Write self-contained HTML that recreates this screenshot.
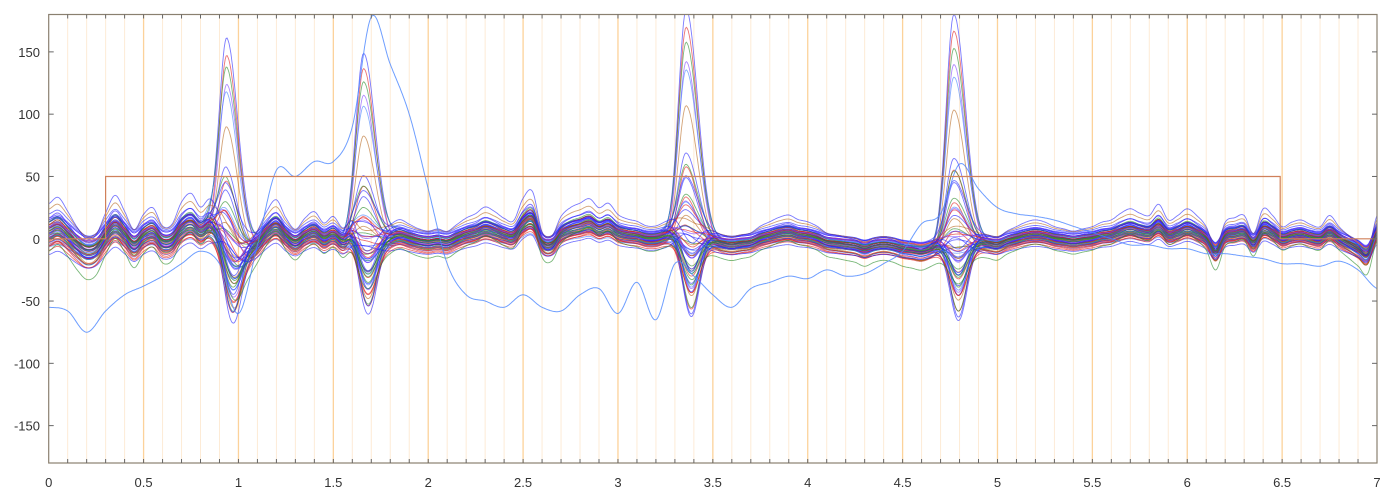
<!DOCTYPE html>
<html><head><meta charset="utf-8">
<style>
html,body{margin:0;padding:0;background:#fff;}
svg{display:block;font-family:"Liberation Sans",sans-serif;}
</style></head>
<body>
<svg id="chart" width="1400" height="500" viewBox="0 0 1400 500" xmlns="http://www.w3.org/2000/svg">
<g id="grid"></g>
<g id="traces"></g>
<g id="axes"></g>
</svg>
<script>
// ---- data ----
const baseWave = [5,8,2,-5,-10,-8,2,10,3,-5,2,5,-3,-2,8,12,6,10,5,-5,-12,-10,-4,5,10,2,-3,2,5,0,3,-2,2,-5,-5,-2,0,2,0,-2,
-3,-2,-3,0,3,5,8,6,3,2,12,15,-3,-5,4,8,10,12,8,10,5,3,2,0,0,2,4,2,0,0,-2,-4,-5,-4,-3,0,2,4,5,3,2,0,-3,-4,-5,-6,-8,-6,-5,-6,-8,-9,-10,-8,-5,-3,-2,-2,-3,-4,
-5,-2,0,2,3,2,0,-1,-2,-1,0,2,3,6,8,6,5,10,3,5,8,5,0,-10,2,4,5,-3,8,5,0,2,3,1,0,5,0,-4,-8,-12,5];
const baseStep = 0.05;
const spikeTimes = [0.94, 1.66, 3.36, 4.77];
const spikeScale = [0.85, 0.8, 0.95, 0.95];
const spikeAmp = [190,180,160,150,135,115,70,65,58,52,45,40,35,30,26,22,18,14,10,7,4,2,0,-2,-4,-6,-8,-10,-12,-14,-16,-18,-20,-22,-24,-26,-28,-30,-32,-34,-36,-38,-40,-42,-44,-46,-50,-55,-60,-65,-70,-40,-30,-20,-10,5,12,25,-25,-15];
const baseGain = [1,0.8,1.2,0.6,1.4,0.9,1.1,0.7,1.3,1.0,0.9,1.2,0.8,1.5,1.0,0.7,1.1,1.3,0.6,1.0,1.2,0.8,1.4,0.9,1.1,1.0,0.7,1.3,0.9,1.2,1.0,0.8,1.1,1.4,0.6,1.0,1.2,0.9,1.3,0.8,1.1,1.0,0.7,1.2,0.9,1.5,1.0,0.8,1.1,1.3,0.9,1.0,1.2,0.7,1.1,1.4,0.8,1.0,1.6,1.8];
const offsets = [3,-4,6,-2,8,-6,1,-8,4,-3,10,-10,2,-1,5,-5,7,-7,0,3,-3,6,-6,9,-9,1,-2,4,-4,2,-1,5,-5,8,-8,0,3,-3,6,-6,12,-12,1,-1,4,-4,7,-7,2,-2,9,-9,0,5,-5,14,-14,3,-15,16];
const colorCycle = ["#1f1fff","#e01818","#228822","#7a3cff","#3c7cff","#b5651d","#1f1fff","#e01818","#228822","#1f1fff"];
const outlier = [-55,-58,-75,-58,-45,-38,-30,-20,-10,-20,-60,-5,55,50,62,62,90,178,140,100,40,-20,-45,-50,-55,-45,-55,-58,-45,-40,-60,-35,-65,-20,-30,-45,-55,-40,-35,-30,-32,-25,-30,-28,-20,-10,12,20,60,40,25,20,18,15,10,5,0,-5,-5,-8,-8,-12,-12,-14,-16,-20,-20,-22,-18,-25,-40];
const outlierStep = 0.1;
const stepTimes = [0, 0.3, 0.3, 6.49, 6.49, 7];
const stepVals = [0, 0, 50, 50, 0, 0];
const xTicks = [0,0.5,1,1.5,2,2.5,3,3.5,4,4.5,5,5.5,6,6.5,7];
const xTickLabels = ["0","0.5","1","1.5","2","2.5","3","3.5","4","4.5","5","5.5","6","6.5","7"];
const yTicks = [150,100,50,0,-50,-100,-150];
const yTickLabels = ["150","100","50","0","-50","-100","-150"];

// ---- scales ----
const X0=48.7, X1=1377, Y0=463, Y1=14.5, XMIN=0, XMAX=7, YMIN=-180, YMAX=180;
const sx = t => X0 + (t-XMIN)/(XMAX-XMIN)*(X1-X0);
const sy = v => Y0 - (v-YMIN)/(YMAX-YMIN)*(Y0-Y1);
const NS="http://www.w3.org/2000/svg";
function mk(tag, parent){const e=document.createElementNS(NS,tag);parent.appendChild(e);return e;}

function interp(arr, step, t){
  let f=t/step, i=Math.floor(f); if(i>=arr.length-1) return arr[arr.length-1];
  const u=f-i, p0=arr[Math.max(i-1,0)], p1=arr[i], p2=arr[i+1], p3=arr[Math.min(i+2,arr.length-1)];
  return 0.5*((2*p1)+(-p0+p2)*u+(2*p0-5*p1+4*p2-p3)*u*u+(-p0+3*p1-3*p2+p3)*u*u*u);
}
function spikeShape(t, amp){
  let s=0;
  for(let k=0;k<spikeTimes.length;k++){
    const c = spikeTimes[k] + (amp<0?0.025:0);
    const d = t-c, sg = amp>0 ? (d<0?0.04:0.06) : 0.045;
    s += spikeScale[k]*Math.exp(-d*d/(2*sg*sg));
  }
  return s*amp;
}

// ---- grid ----
const grid=document.getElementById('grid');
for(let i=1;i<70;i++){
  const t=i/10, major=(i%5===0);
  const l=mk('line',grid);
  
  
  l.setAttribute('x1',sx(t));l.setAttribute('x2',sx(t));l.setAttribute('y1',Y1);l.setAttribute('y2',Y0);
  l.setAttribute('stroke',major?'#fcd29a':'#fdebd6');l.setAttribute('stroke-width',major?1.3:1);
}

// ---- traces ----
const tg=document.getElementById('traces');
const clip=mk('clipPath',document.getElementById('chart'));clip.id='pc';
const cr=mk('rect',clip);cr.setAttribute('x',X0);cr.setAttribute('y',Y1);cr.setAttribute('width',X1-X0);cr.setAttribute('height',Y0-Y1);
tg.setAttribute('clip-path','url(#pc)');
for(let j=0;j<spikeAmp.length;j++){
  let d='';
  for(let n=0;n<=1400;n++){
    const t=n*0.005;
    const v=interp(baseWave,baseStep,t)*baseGain[j]+offsets[j]*(0.6+0.6*Math.exp(-t*0.8))+spikeShape(t,spikeAmp[j]);
    d+=(n?'L':'M')+sx(t).toFixed(1)+' '+sy(v).toFixed(1);
  }
  const p=mk('path',tg);
  
  
  p.setAttribute('d',d);p.setAttribute('fill','none');
  p.setAttribute('stroke',colorCycle[j%colorCycle.length]);p.setAttribute('stroke-width','0.9');p.setAttribute('stroke-opacity','0.6');
}
{
  let d='';
  for(let n=0;n<=1400;n++){const t=n*0.005;d+=(n?'L':'M')+sx(t).toFixed(1)+' '+sy(interp(outlier,outlierStep,t)).toFixed(1);}
  const p=mk('path',tg);
  
  
  p.setAttribute('d',d);p.setAttribute('fill','none');p.setAttribute('stroke','#4a86ff');p.setAttribute('stroke-width','1');p.setAttribute('stroke-opacity','0.8');
}
{
  let d='';
  for(let i=0;i<stepTimes.length;i++) d+=(i?'L':'M')+sx(stepTimes[i]).toFixed(1)+' '+sy(stepVals[i]).toFixed(1);
  const p=mk('path',tg);
  
  
  p.setAttribute('d',d);p.setAttribute('fill','none');p.setAttribute('stroke','#d0805a');p.setAttribute('stroke-width','1.2');
}

// ---- axes ----
const ax=document.getElementById('axes');
const frame=mk('rect',ax);


frame.setAttribute('x',X0);frame.setAttribute('y',Y1);frame.setAttribute('width',X1-X0);frame.setAttribute('height',Y0-Y1);
frame.setAttribute('fill','none');frame.setAttribute('stroke','#8a8070');frame.setAttribute('stroke-width','1.2');
for(let i=1;i<70;i++){
  const x=sx(i/10);
  for(const [ya,yb] of [[Y0,Y0-4],[Y1,Y1+4]]){
    const l=mk('line',ax);
    
    
    l.setAttribute('x1',x);l.setAttribute('x2',x);l.setAttribute('y1',ya);l.setAttribute('y2',yb);l.setAttribute('stroke','#666');
  }
}
xTicks.forEach((t,i)=>{
  const tx=mk('text',ax);
  
  
  tx.setAttribute('x',sx(t));tx.setAttribute('y',487);tx.setAttribute('text-anchor','middle');
  tx.setAttribute('font-size','13');tx.setAttribute('fill','#333');tx.textContent=xTickLabels[i];
});
yTicks.forEach((v,i)=>{
  const y=sy(v);
  for(const [xa,xb] of [[X0,X0+5],[X1,X1-5]]){
    const l=mk('line',ax);
    
    
    l.setAttribute('x1',xa);l.setAttribute('x2',xb);l.setAttribute('y1',y);l.setAttribute('y2',y);l.setAttribute('stroke','#666');
  }
  const tx=mk('text',ax);
  
  
  tx.setAttribute('x',40);tx.setAttribute('y',y+5);tx.setAttribute('text-anchor','end');
  tx.setAttribute('font-size','13');tx.setAttribute('fill','#333');tx.textContent=yTickLabels[i];
});
</script>
</body></html>
